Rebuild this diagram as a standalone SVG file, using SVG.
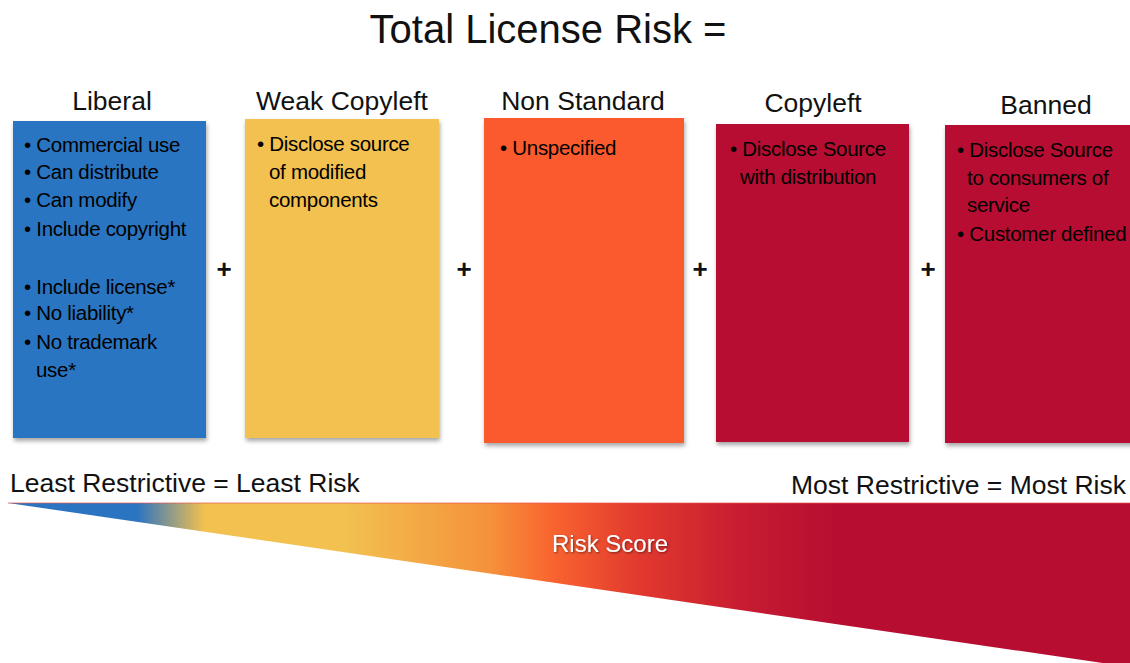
<svg xmlns="http://www.w3.org/2000/svg" width="1130" height="663" viewBox="0 0 1130 663">
  <style>
    text { font-family: "Liberation Sans", Arial, sans-serif; fill: #111; }
    .title { font-size: 40px; text-anchor: middle; }
    .head { font-size: 26.5px; text-anchor: middle; }
    .item { font-size: 20.5px; letter-spacing: -0.3px; fill: #000; }
    .plus { font-size: 26px; text-anchor: middle; font-weight: bold; }
    .scale { font-size: 26.5px; }
    .score { font-size: 24px; fill: #fff; text-anchor: middle; }
  </style>
  <defs>
    <filter id="shadow" x="-5%" y="-5%" width="115%" height="115%">
      <feDropShadow dx="1" dy="3" stdDeviation="2" flood-color="#000" flood-opacity="0.35"/>
    </filter>
    <filter id="textShadow" x="-10%" y="-30%" width="120%" height="160%">
      <feDropShadow dx="1" dy="1" stdDeviation="1" flood-color="#000" flood-opacity="0.5"/>
    </filter>
    <linearGradient id="riskGrad" gradientUnits="userSpaceOnUse" x1="8" y1="0" x2="1130" y2="0">
      <stop offset="0" stop-color="#2b74c1"/>
      <stop offset="0.115" stop-color="#2b74c1"/>
      <stop offset="0.175" stop-color="#f2c150"/>
      <stop offset="0.3" stop-color="#f2c150"/>
      <stop offset="0.43" stop-color="#f5913b"/>
      <stop offset="0.485" stop-color="#f9642f"/>
      <stop offset="0.56" stop-color="#e23a2e"/>
      <stop offset="0.65" stop-color="#c81d31"/>
      <stop offset="0.74" stop-color="#b70d31"/>
      <stop offset="1" stop-color="#b70d31"/>
    </linearGradient>
  </defs>

  <rect width="1130" height="663" fill="#fff"/>

  <text class="title" x="548" y="43">Total License Risk =</text>

  <!-- license categories -->
  <g id="liberal">
    <text class="head" x="112" y="110">Liberal</text>
    <rect x="13" y="121" width="193" height="317" fill="#2b74c1" filter="url(#shadow)"/>
    <text class="item">
      <tspan x="24" y="152">• Commercial use</tspan>
      <tspan x="24" y="179">• Can distribute</tspan>
      <tspan x="24" y="207">• Can modify</tspan>
      <tspan x="24" y="236">• Include copyright</tspan>
      <tspan x="24" y="294">• Include license*</tspan>
      <tspan x="24" y="320">• No liability*</tspan>
      <tspan x="24" y="349">• No trademark</tspan>
      <tspan x="36" y="377">use*</tspan>
    </text>
  </g>

  <g id="weak-copyleft">
    <text class="head" x="342" y="110">Weak Copyleft</text>
    <rect x="245" y="119" width="194" height="319" fill="#f2c150" filter="url(#shadow)"/>
    <text class="item">
      <tspan x="257" y="151">• Disclose source</tspan>
      <tspan x="269" y="179">of modified</tspan>
      <tspan x="269" y="207">components</tspan>
    </text>
  </g>

  <g id="non-standard">
    <text class="head" x="583" y="110">Non Standard</text>
    <rect x="484" y="118" width="200" height="325" fill="#fb5a2d" filter="url(#shadow)"/>
    <text class="item">
      <tspan x="500" y="155">• Unspecified</tspan>
    </text>
  </g>

  <g id="copyleft">
    <text class="head" x="813" y="112">Copyleft</text>
    <rect x="716" y="124" width="193" height="318" fill="#b70d31" filter="url(#shadow)"/>
    <text class="item">
      <tspan x="730" y="156">• Disclose Source</tspan>
      <tspan x="740" y="184">with distribution</tspan>
    </text>
  </g>

  <g id="banned">
    <text class="head" x="1046" y="114">Banned</text>
    <rect x="945" y="125" width="190" height="318" fill="#b70d31" filter="url(#shadow)"/>
    <text class="item">
      <tspan x="957" y="157">• Disclose Source</tspan>
      <tspan x="967" y="185">to consumers of</tspan>
      <tspan x="967" y="212">service</tspan>
      <tspan x="957" y="241">• Customer defined</tspan>
    </text>
  </g>

  <!-- sum operators between categories -->
  <g id="connectors">
    <text class="plus" x="224" y="278">+</text>
    <text class="plus" x="464" y="278">+</text>
    <text class="plus" x="700" y="278">+</text>
    <text class="plus" x="928" y="278">+</text>
  </g>

  <!-- risk scale -->
  <g id="risk-scale">
    <text class="scale" x="10" y="492">Least Restrictive = Least Risk</text>
    <text class="scale" x="1126" y="494" text-anchor="end">Most Restrictive = Most Risk</text>
    <polygon points="8,503 1130,503 1130,667" fill="url(#riskGrad)"/>
    <line x1="8" y1="503" x2="1130" y2="503" stroke="#e8554a" stroke-width="1" opacity="0.7"/>
    <text class="score" x="610" y="552" filter="url(#textShadow)">Risk Score</text>
  </g>
</svg>
